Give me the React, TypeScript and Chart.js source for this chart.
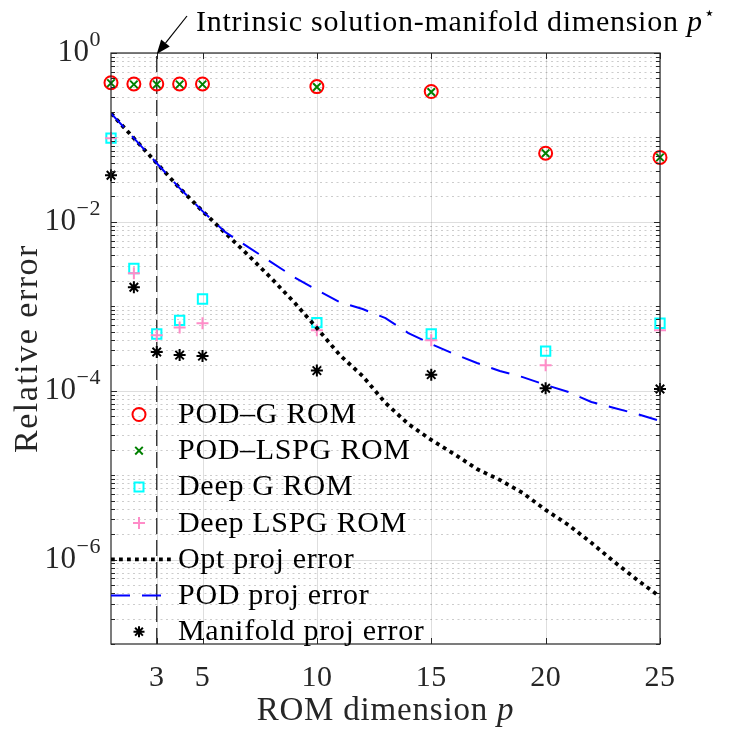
import React, { useEffect, useRef } from 'react';
import { Chart, registerables } from 'chart.js';

Chart.register(...registerables);

// ---------------- data ----------------
const romDims = [1, 2, 3, 4, 5, 10, 15, 20, 25];
const podG = [0.445, 0.43, 0.43, 0.43, 0.43, 0.4, 0.35, 0.065, 0.058];
const podLspg = [0.44, 0.425, 0.425, 0.425, 0.425, 0.395, 0.345, 0.065, 0.058];
const deepG = [0.098, 2.8e-3, 4.7e-4, 6.8e-4, 1.22e-3, 6.4e-4, 4.7e-4, 2.95e-4, 6.3e-4];
const deepLspg = [0.098, 2.46e-3, 4.55e-4, 5.6e-4, 6.3e-4, 5.2e-4, 3.97e-4, 2.0e-4, 5.2e-4];
const manifoldProj = [0.0356, 1.68e-3, 2.88e-4, 2.64e-4, 2.57e-4, 1.73e-4, 1.55e-4, 1.07e-4, 1.05e-4];

const projDims = [1, 2, 3, 4, 5, 6, 7, 8, 9, 10, 11, 12, 13, 14, 15, 16, 17, 18, 19, 20, 21, 22, 23, 24, 25];
const optProj = [
  0.193, 0.098, 0.0495, 0.0251, 0.0134, 0.00735, 0.00403, 0.00216, 0.00112, 5.52e-4,
  2.65e-4, 1.49e-4, 7.15e-5, 4.03e-5, 2.61e-5, 1.78e-5, 1.18e-5, 8.77e-6, 6.15e-6, 3.87e-6,
  2.57e-6, 1.58e-6, 9.4e-7, 5.75e-7, 3.62e-7,
];
const podProj = [
  0.193, 0.098, 0.0495, 0.0251, 0.0134, 0.00755, 0.00502, 0.00334, 0.00222, 0.00156,
  0.00112, 9.27e-4, 7.25e-4, 4.82e-4, 3.57e-4, 2.72e-4, 2.13e-4, 1.71e-4, 1.45e-4, 1.17e-4,
  9.65e-5, 7.35e-5, 6.24e-5, 5.3e-5, 4.38e-5,
];

const intrinsicDim = 3;
const xTicks = [3, 5, 10, 15, 20, 25];
const yTickExps = [0, -2, -4, -6];
const xRange = [1, 25];
const yRange = [1e-7, 1];

const legendLabels = [
  'POD–G ROM',
  'POD–LSPG ROM',
  'Deep G ROM',
  'Deep LSPG ROM',
  'Opt proj error',
  'POD proj error',
  'Manifold proj error',
];
const annotationText = 'Intrinsic solution-manifold dimension ';
const xTitle = 'ROM dimension ';
const yTitle = 'Relative error';

// ---------------- styles ----------------
const SERIF = '"Liberation Serif", "Times New Roman", serif';
const AXIS_COLOR = '#262626';
const RED = '#ff0000';
const GREEN = '#008000';
const CYAN = '#00ffff';
const PINK = '#ff8cc8';
const BLUE = '#0000ff';
const BLACK = '#000000';

const pts = (xs: number[], ys: number[]) => xs.map((x, i) => ({ x, y: ys[i] }));

function setSpacing(ctx: any, px: number) {
  if ('letterSpacing' in ctx) ctx.letterSpacing = `${px}px`;
}

function drawMarker(ctx: CanvasRenderingContext2D, kind: string, x: number, y: number, color: string) {
  ctx.save();
  ctx.strokeStyle = color;
  ctx.lineWidth = 2;
  ctx.setLineDash([]);
  ctx.beginPath();
  if (kind === 'circle') {
    ctx.arc(x, y, 6.5, 0, Math.PI * 2);
  } else if (kind === 'crossRot') {
    const r = 3.8;
    ctx.moveTo(x - r, y - r); ctx.lineTo(x + r, y + r);
    ctx.moveTo(x - r, y + r); ctx.lineTo(x + r, y - r);
  } else if (kind === 'rect') {
    ctx.rect(x - 4.5, y - 4.5, 9, 9);
  } else if (kind === 'cross') {
    const r = 6;
    ctx.moveTo(x - r, y); ctx.lineTo(x + r, y);
    ctx.moveTo(x, y - r); ctx.lineTo(x, y + r);
  } else if (kind === 'star') {
    const r = 5.5, d = r * Math.SQRT1_2;
    ctx.moveTo(x - r, y); ctx.lineTo(x + r, y);
    ctx.moveTo(x, y - r); ctx.lineTo(x, y + r);
    ctx.moveTo(x - d, y - d); ctx.lineTo(x + d, y + d);
    ctx.moveTo(x - d, y + d); ctx.lineTo(x + d, y - d);
  }
  ctx.stroke();
  ctx.restore();
}

const axesPlugin = {
  id: 'matlabAxes',
  beforeDatasetsDraw(chart: any) {
    const { ctx, chartArea: a, scales } = chart;
    const ys = scales.y, xs = scales.x;
    ctx.save();
    ctx.lineWidth = 1;
    // minor (dotted) horizontal grid
    ctx.strokeStyle = 'rgba(0,0,0,0.2)';
    ctx.setLineDash([2, 3.5]);
    ctx.beginPath();
    for (let d = -7; d <= -1; d++) {
      for (let k = 1; k <= 9; k++) {
        if (k === 1 && d % 2 === 0) continue;
        const v = k * Math.pow(10, d);
        const py = Math.round(ys.getPixelForValue(v)) + 0.5;
        if (py < a.top || py > a.bottom) continue;
        ctx.moveTo(a.left, py);
        ctx.lineTo(a.right, py);
      }
    }
    ctx.stroke();
    // major grid
    ctx.setLineDash([]);
    ctx.strokeStyle = 'rgba(0,0,0,0.13)';
    ctx.beginPath();
    for (const e of yTickExps) {
      const py = Math.round(ys.getPixelForValue(Math.pow(10, e))) + 0.5;
      ctx.moveTo(a.left, py);
      ctx.lineTo(a.right, py);
    }
    for (const t of xTicks) {
      const px = Math.round(xs.getPixelForValue(t)) + 0.5;
      ctx.moveTo(px, a.top);
      ctx.lineTo(px, a.bottom);
    }
    ctx.stroke();
    ctx.restore();
  },
  afterDraw(chart: any) {
    const { ctx, chartArea: a, scales } = chart;
    const ys = scales.y, xs = scales.x;
    ctx.save();
    // box
    ctx.strokeStyle = AXIS_COLOR;
    ctx.lineWidth = 1.2;
    ctx.setLineDash([]);
    ctx.strokeRect(a.left, a.top, a.right - a.left, a.bottom - a.top);
    // ticks
    ctx.lineWidth = 1;
    ctx.beginPath();
    for (const t of xTicks) {
      const px = Math.round(xs.getPixelForValue(t)) + 0.5;
      ctx.moveTo(px, a.bottom); ctx.lineTo(px, a.bottom - 6);
      ctx.moveTo(px, a.top); ctx.lineTo(px, a.top + 6);
    }
    for (let d = -7; d <= 0; d++) {
      for (let k = 1; k <= 9; k++) {
        const v = k * Math.pow(10, d);
        if (v > yRange[1] * 1.0001) continue;
        const len = k === 1 && d % 2 === 0 ? 6 : 4;
        const py = Math.round(ys.getPixelForValue(v)) + 0.5;
        ctx.moveTo(a.left, py); ctx.lineTo(a.left + len, py);
        ctx.moveTo(a.right, py); ctx.lineTo(a.right - len, py);
      }
    }
    ctx.stroke();

    // y tick labels (10^e)
    ctx.fillStyle = AXIS_COLOR;
    ctx.textBaseline = 'alphabetic';
    ctx.textAlign = 'left';
    setSpacing(ctx, 0.5);
    const labelRight = a.left - 10;
    for (const e of yTickExps) {
      const py = ys.getPixelForValue(Math.pow(10, e));
      const expStr = e === 0 ? '0' : '−' + String(-e);
      ctx.font = `22px ${SERIF}`;
      const we = ctx.measureText(expStr).width;
      ctx.font = `31px ${SERIF}`;
      const wb = ctx.measureText('10').width;
      ctx.fillText('10', labelRight - we - wb, py + 8);
      ctx.font = `22px ${SERIF}`;
      ctx.fillText(expStr, labelRight - we, py - 7);
    }
    // x tick labels
    ctx.font = `30px ${SERIF}`;
    ctx.textAlign = 'center';
    for (const t of xTicks) {
      ctx.fillText(String(t), xs.getPixelForValue(t), a.bottom + 42);
    }
    // x title
    ctx.textAlign = 'left';
    setSpacing(ctx, 0.8);
    ctx.font = `33px ${SERIF}`;
    const w1 = ctx.measureText(xTitle).width;
    ctx.font = `italic 33px ${SERIF}`;
    const w2 = ctx.measureText('p').width;
    const cx = (a.left + a.right) / 2;
    ctx.font = `33px ${SERIF}`;
    ctx.fillText(xTitle, cx - (w1 + w2) / 2, 720);
    ctx.font = `italic 33px ${SERIF}`;
    ctx.fillText('p', cx - (w1 + w2) / 2 + w1, 720);
    // y title
    ctx.save();
    ctx.translate(37, (a.top + a.bottom) / 2);
    ctx.rotate(-Math.PI / 2);
    ctx.textAlign = 'center';
    setSpacing(ctx, 1.5);
    ctx.font = `34px ${SERIF}`;
    ctx.fillText(yTitle, 0, 0);
    ctx.restore();

    // annotation arrow + text
    const tipX = xs.getPixelForValue(intrinsicDim);
    const tipY = a.top + 1;
    const sx = 187, sy = 16;
    const ang = Math.atan2(tipY - sy, tipX - sx);
    const hl = 14, hw = 5.5;
    const bx = tipX - hl * Math.cos(ang), by = tipY - hl * Math.sin(ang);
    ctx.strokeStyle = BLACK;
    ctx.fillStyle = BLACK;
    ctx.lineWidth = 1.2;
    ctx.beginPath();
    ctx.moveTo(sx, sy);
    ctx.lineTo(bx, by);
    ctx.stroke();
    ctx.beginPath();
    ctx.moveTo(tipX, tipY);
    ctx.lineTo(bx + hw * Math.sin(ang), by - hw * Math.cos(ang));
    ctx.lineTo(bx - hw * Math.sin(ang), by + hw * Math.cos(ang));
    ctx.closePath();
    ctx.fill();
    ctx.textAlign = 'left';
    setSpacing(ctx, 0.75);
    ctx.font = `30px ${SERIF}`;
    const tx = 196, tb = 31;
    const wa = ctx.measureText(annotationText).width;
    ctx.fillText(annotationText, tx, tb);
    ctx.font = `italic 30px ${SERIF}`;
    const wp = ctx.measureText('p').width;
    ctx.fillText('p', tx + wa, tb);
    ctx.font = `18px "DejaVu Sans", ${SERIF}`;
    ctx.fillText('⋆', tx + wa + wp + 1, tb - 12);

    // legend (no box)
    const rowY0 = 413, step = 36.2;
    const mx = a.left + 28;
    const textX = a.left + 67;
    const kinds = ['circle', 'crossRot', 'rect', 'cross', 'dotted', 'dashed', 'star'];
    const colors = [RED, GREEN, CYAN, PINK, BLACK, BLUE, BLACK];
    setSpacing(ctx, 0.7);
    legendLabels.forEach((lab, i) => {
      const cy = rowY0 + i * step;
      const k = kinds[i];
      if (k === 'dotted') {
        ctx.save();
        ctx.strokeStyle = BLACK;
        ctx.lineWidth = 3.8;
        ctx.lineCap = 'butt';
        ctx.setLineDash([3.8, 4.2]);
        ctx.beginPath();
        ctx.moveTo(a.left, cy + 1.5);
        ctx.lineTo(a.left + 60, cy + 1.5);
        ctx.stroke();
        ctx.restore();
      } else if (k === 'dashed') {
        ctx.save();
        ctx.strokeStyle = BLUE;
        ctx.lineWidth = 2;
        ctx.setLineDash([19, 12]);
        ctx.beginPath();
        ctx.moveTo(a.left, cy + 1.5);
        ctx.lineTo(a.left + 52, cy + 1.5);
        ctx.stroke();
        ctx.restore();
      } else {
        drawMarker(ctx, k, mx, cy + 1.5, colors[i]);
      }
      ctx.fillStyle = BLACK;
      ctx.font = `30px ${SERIF}`;
      ctx.textAlign = 'left';
      ctx.fillText(lab, textX, cy + 10);
    });
    setSpacing(ctx, 0);
    ctx.restore();
  },
};

export default function App() {
  const ref = useRef<HTMLCanvasElement>(null);
  useEffect(() => {
    document.body.style.margin = '0';
    const canvas = ref.current!;
    const n = 8;
    const markerSet = (label: string, ys: number[], style: string, color: string, radius: number, i: number) => ({
      label,
      data: pts(romDims, ys),
      showLine: false,
      clip: false,
      pointStyle: style,
      pointRadius: radius,
      pointBorderWidth: 2,
      pointBorderColor: color,
      pointBackgroundColor: 'rgba(0,0,0,0)',
      borderColor: color,
      backgroundColor: 'rgba(0,0,0,0)',
      order: n - i,
    });
    const chart = new Chart(canvas, {
      type: 'line',
      data: {
        datasets: [
          {
            label: 'p*',
            data: [{ x: intrinsicDim, y: yRange[0] }, { x: intrinsicDim, y: yRange[1] }],
            borderColor: '#1a1a1a',
            borderWidth: 1.2,
            borderDash: [16, 6],
            pointRadius: 0,
            fill: false,
            order: n + 1,
          } as any,
          markerSet(legendLabels[0], podG, 'circle', RED, 6.5, 0),
          markerSet(legendLabels[1], podLspg, 'crossRot', GREEN, 5.3, 1),
          markerSet(legendLabels[2], deepG, 'rect', CYAN, 6.6, 2),
          markerSet(legendLabels[3], deepLspg, 'cross', PINK, 6, 3),
          {
            label: legendLabels[4],
            data: pts(projDims, optProj),
            borderColor: BLACK,
            borderWidth: 3.8,
            borderDash: [3.8, 4.2],
            borderCapStyle: 'butt',
            pointRadius: 0,
            fill: false,
            tension: 0,
            order: n - 4,
          },
          {
            label: legendLabels[5],
            data: pts(projDims, podProj),
            borderColor: BLUE,
            borderWidth: 2,
            borderDash: [19, 12],
            pointRadius: 0,
            fill: false,
            tension: 0,
            order: n - 5,
          },
          markerSet(legendLabels[6], manifoldProj, 'star', BLACK, 6, 6),
        ] as any,
      },
      options: {
        responsive: false,
        animation: false,
        devicePixelRatio: 1,
        events: [],
        layout: { padding: { left: 111, right: 70, top: 53, bottom: 86 } },
        scales: {
          x: { type: 'linear', min: xRange[0], max: xRange[1], display: false },
          y: { type: 'logarithmic', min: yRange[0], max: yRange[1], display: false },
        },
        plugins: { legend: { display: false }, tooltip: { enabled: false } },
      } as any,
      plugins: [axesPlugin],
    });
    return () => chart.destroy();
  }, []);
  return <canvas ref={ref} width={730} height={730} style={{ display: 'block' }} />;
}
